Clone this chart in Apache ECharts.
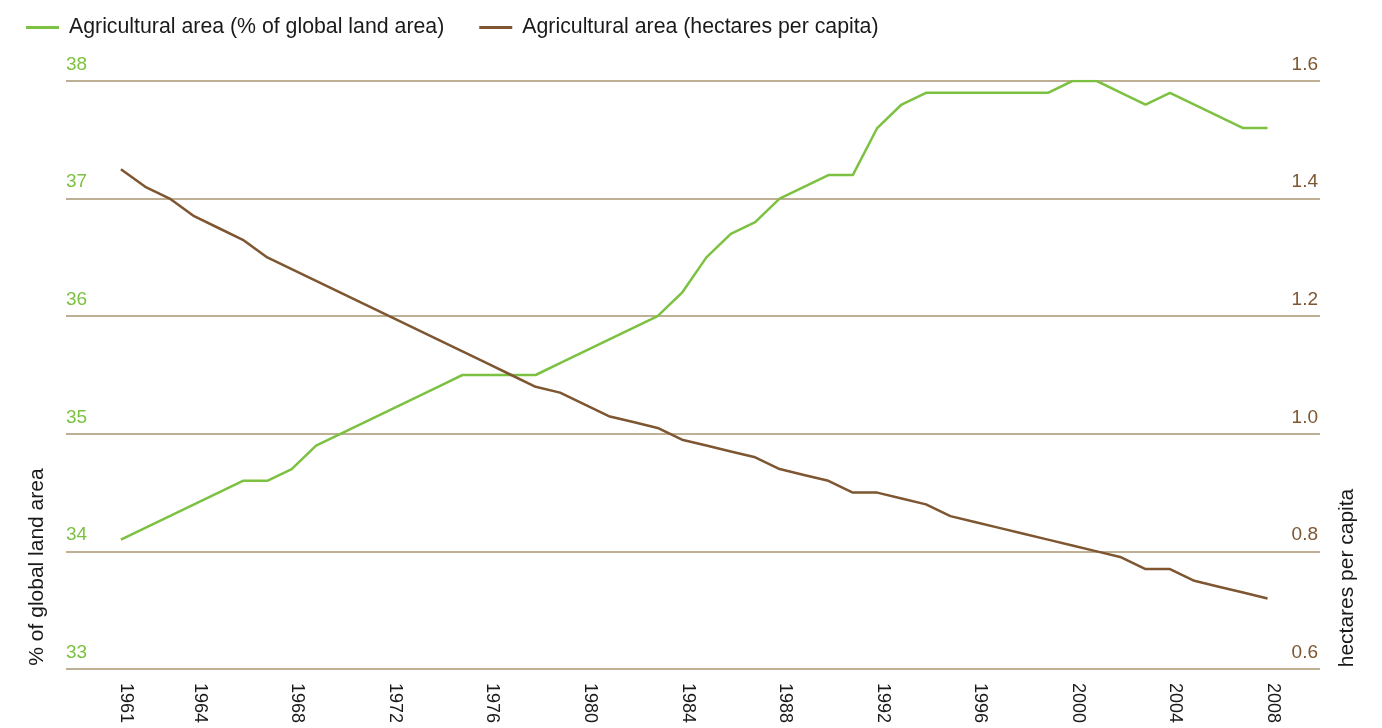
<!DOCTYPE html>
<html>
<head>
<meta charset="utf-8">
<script src="https://cdn.jsdelivr.net/npm/echarts@6/dist/echarts.min.js"></script>
<style>
html,body{margin:0;padding:0;background:#fff;}
#chart{width:1382px;height:728px;}
</style>
</head>
<body>
<div id="chart"></div>
<script>
var years = [1961,1962,1963,1964,1965,1966,1967,1968,1969,1970,1971,1972,1973,1974,1975,1976,1977,1978,1979,1980,1981,1982,1983,1984,1985,1986,1987,1988,1989,1990,1991,1992,1993,1994,1995,1996,1997,1998,1999,2000,2001,2002,2003,2004,2005,2006,2007,2008];
var pctLand = [34.1,34.2,34.3,34.4,34.5,34.6,34.6,34.7,34.9,35.0,35.1,35.2,35.3,35.4,35.5,35.5,35.5,35.5,35.6,35.7,35.8,35.9,36.0,36.2,36.5,36.7,36.8,37.0,37.1,37.2,37.2,37.6,37.8,37.9,37.9,37.9,37.9,37.9,37.9,38.0,38.0,37.9,37.8,37.9,37.8,37.7,37.6,37.6];
var haPerCapita = [1.45,1.42,1.40,1.37,1.35,1.33,1.30,1.28,1.26,1.24,1.22,1.20,1.18,1.16,1.14,1.12,1.10,1.08,1.07,1.05,1.03,1.02,1.01,0.99,0.98,0.97,0.96,0.94,0.93,0.92,0.90,0.90,0.89,0.88,0.86,0.85,0.84,0.83,0.82,0.81,0.80,0.79,0.77,0.77,0.75,0.74,0.73,0.72];
var xTickYears = [1961,1964,1968,1972,1976,1980,1984,1988,1992,1996,2000,2004,2008];
var seriesNames = ['Agricultural area (% of global land area)','Agricultural area (hectares per capita)'];
var leftAxisName = '% of global land area';
var rightAxisName = 'hectares per capita';

var FONT = "'Liberation Sans', Arial, Helvetica, sans-serif";
var GREEN = '#7cc142';
var BROWN = '#7e5631';
var GRID = '#aa9570';

function pairs(vals){ return years.map(function(y,i){ return [y, vals[i]]; }); }

var chart = echarts.init(document.getElementById('chart'));
chart.setOption({
  animation: false,
  backgroundColor: '#fff',
  textStyle: { fontFamily: FONT },
  grid: { left: 66, right: 62, top: 81, bottom: 59, containLabel: false },
  legend: {
    left: 21, top: 12,
    icon: 'rect', itemWidth: 33, itemHeight: 3, itemGap: 35,
    textStyle: { fontSize: 21.3, color: '#1a1a1a', fontFamily: FONT, padding: [0,0,0,5] },
    data: seriesNames
  },
  xAxis: {
    type: 'value', min: 1958.75, max: 2010.15,
    axisLine: { show: false }, axisTick: { show: false }, splitLine: { show: false },
    axisLabel: {
      customValues: xTickYears, rotate: -90, margin: 14,
      fontSize: 18, color: '#1a1a1a', fontFamily: FONT,
      verticalAlign: 'bottom', lineHeight: 11,
      formatter: function(v){ return String(v); }
    }
  },
  yAxis: [
    {
      type: 'value', min: 33, max: 38, interval: 1, position: 'left',
      axisLine: { show: false }, axisTick: { show: false },
      splitLine: { show: true, lineStyle: { color: GRID, width: 1.5 } },
      axisLabel: { inside: true, margin: 0, fontSize: 19, color: GREEN, fontFamily: FONT,
        verticalAlign: 'bottom', padding: [0,0,7,0] }
    },
    {
      type: 'value', min: 0.6, max: 1.6, interval: 0.2, position: 'right',
      axisLine: { show: false }, axisTick: { show: false }, splitLine: { show: false },
      axisLabel: { inside: true, margin: 2, fontSize: 19, color: BROWN, fontFamily: FONT,
        verticalAlign: 'bottom', padding: [0,0,7,0],
        formatter: function(v){ return v.toFixed(1); } }
    }
  ],
  graphic: [
    { type: 'text', x: 37, y: 567, rotation: Math.PI/2,
      style: { text: leftAxisName, fill: '#1a1a1a', font: '21px ' + FONT, align: 'center', verticalAlign: 'middle' } },
    { type: 'text', x: 1347, y: 578, rotation: Math.PI/2,
      style: { text: rightAxisName, fill: '#1a1a1a', font: '21px ' + FONT, align: 'center', verticalAlign: 'middle' } }
  ],
  series: [
    { name: seriesNames[0], type: 'line', yAxisIndex: 0, data: pairs(pctLand),
      showSymbol: false, symbol: 'none', lineStyle: { color: GREEN, width: 2.5 }, itemStyle: { color: GREEN } },
    { name: seriesNames[1], type: 'line', yAxisIndex: 1, data: pairs(haPerCapita),
      showSymbol: false, symbol: 'none', lineStyle: { color: BROWN, width: 2.5 }, itemStyle: { color: BROWN } }
  ]
});
</script>
</body>
</html>
